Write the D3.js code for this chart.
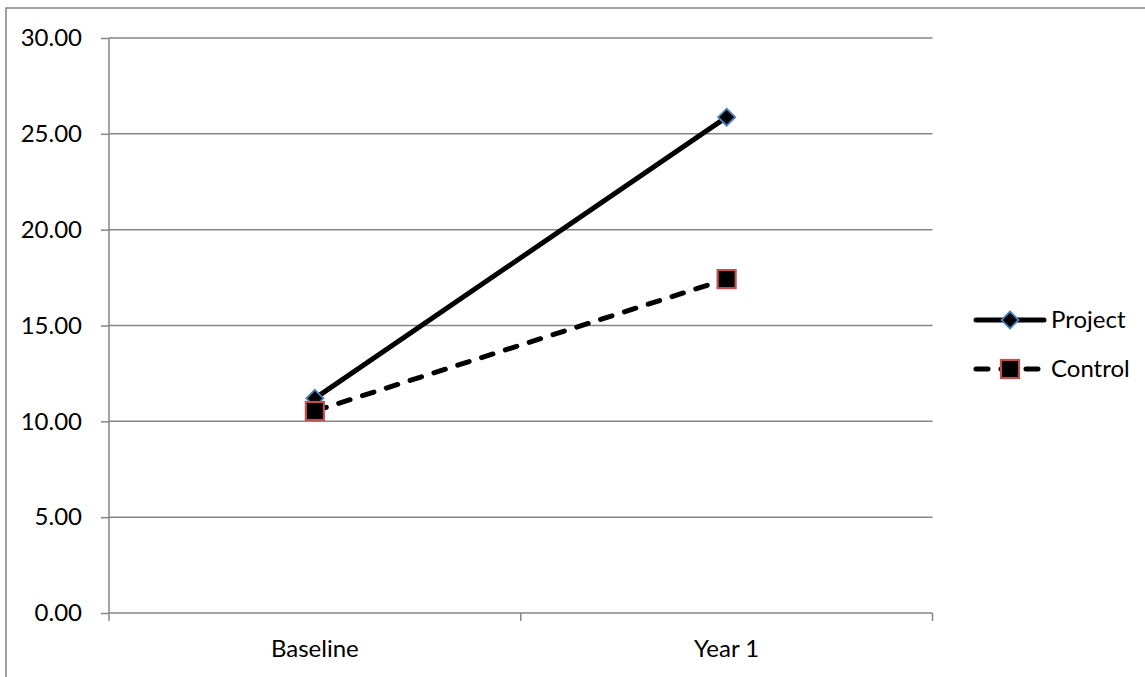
<!DOCTYPE html>
<html>
<head>
<meta charset="utf-8">
<script src="https://cdn.jsdelivr.net/npm/d3@7"></script>
<style>
html,body{margin:0;padding:0;background:#fff;}
svg{display:block;font-family:Lato,"Open Sans",sans-serif;}
</style>
</head>
<body>
<svg id="chart" width="1145" height="677"></svg>
<script>
const categories = ["Baseline", "Year 1"];
const projectValues = [11.2, 25.87];
const controlValues = [10.54, 17.42];
const seriesNames = ["Project", "Control"];
const yTicks = [0, 5, 10, 15, 20, 25, 30];

const svg = d3.select("#chart");
const W = 1145, H = 677;
const plot = {left: 109, right: 932.5, top: 38, bottom: 613};
const fontSize = 24;

// outer border
svg.append("rect").attr("x", 6).attr("y", 8).attr("width", W + 10).attr("height", H + 10)
  .attr("fill", "none").attr("stroke", "#8a8a8a").attr("stroke-width", 1.6);

const y = d3.scaleLinear().domain([0, 30]).range([plot.bottom, plot.top]);
const xBand = d3.scaleBand().domain(categories).range([plot.left, plot.right]);
const x = d => xBand(d) + xBand.bandwidth() / 2;

const gridColor = "#868686";

// gridlines
svg.append("g").selectAll("line").data(yTicks).join("line")
  .attr("x1", plot.left).attr("x2", plot.right)
  .attr("y1", d => y(d)).attr("y2", d => y(d))
  .attr("stroke", gridColor).attr("stroke-width", 1.5);

// y axis
const yAxis = svg.append("g").attr("transform", `translate(${plot.left},0)`)
  .call(d3.axisLeft(y).tickValues(yTicks).tickSize(8).tickPadding(19).tickFormat(d3.format(".2f")));
yAxis.select(".domain").attr("stroke", gridColor).attr("stroke-width", 1.5).attr("d", `M0,${plot.top}V${plot.bottom}`);
yAxis.selectAll(".tick line").attr("stroke", gridColor).attr("stroke-width", 1.5);
yAxis.selectAll(".tick text").attr("font-size", fontSize).attr("font-family", "Lato").attr("fill", "#000");

// x axis: boundary ticks
const bounds = categories.map(c => xBand(c)).concat([plot.right]);
svg.append("g").selectAll("line").data(bounds).join("line")
  .attr("x1", d => d).attr("x2", d => d)
  .attr("y1", plot.bottom).attr("y2", plot.bottom + 8)
  .attr("stroke", gridColor).attr("stroke-width", 1.5);
svg.append("g").selectAll("text").data(categories).join("text")
  .attr("x", d => x(d)).attr("y", 657)
  .attr("text-anchor", "middle").attr("font-size", fontSize).attr("fill", "#000")
  .text(d => d);

// lines
const lineGen = d3.line().x((d, i) => x(categories[i])).y(d => y(d));
svg.append("path").datum(projectValues).attr("d", lineGen)
  .attr("fill", "none").attr("stroke", "#000").attr("stroke-width", 5).attr("stroke-linecap", "round");
svg.append("path").datum(controlValues).attr("d", lineGen)
  .attr("fill", "none").attr("stroke", "#000").attr("stroke-width", 5)
  .attr("stroke-linecap", "round").attr("stroke-dasharray", "12,13");

const diamond = (cx, cy, r) => `M${cx},${cy - r}L${cx + r},${cy}L${cx},${cy + r}L${cx - r},${cy}Z`;

// markers
svg.append("g").selectAll("path").data(projectValues).join("path")
  .attr("d", (d, i) => diamond(x(categories[i]), y(d), 8.5))
  .attr("fill", "#000").attr("stroke", "#4a7ebb").attr("stroke-width", 1.8);
svg.append("g").selectAll("rect").data(controlValues).join("rect")
  .attr("x", (d, i) => x(categories[i]) - 9).attr("y", d => y(d) - 9)
  .attr("width", 18).attr("height", 18)
  .attr("fill", "#000").attr("stroke", "#c0504d").attr("stroke-width", 2.2);

// legend
const leg = svg.append("g");
const legY = [320, 369];
leg.append("line").attr("x1", 976).attr("x2", 1044).attr("y1", legY[0]).attr("y2", legY[0])
  .attr("stroke", "#000").attr("stroke-width", 5).attr("stroke-linecap", "round");
leg.append("path").attr("d", diamond(1010, legY[0], 8.5))
  .attr("fill", "#000").attr("stroke", "#4a7ebb").attr("stroke-width", 1.8);
leg.append("line").attr("x1", 976).attr("x2", 1044).attr("y1", legY[1]).attr("y2", legY[1])
  .attr("stroke", "#000").attr("stroke-width", 5).attr("stroke-linecap", "round")
  .attr("stroke-dasharray", "12,13");
leg.append("rect").attr("x", 1001).attr("y", legY[1] - 9).attr("width", 18).attr("height", 18)
  .attr("fill", "#000").attr("stroke", "#c0504d").attr("stroke-width", 2.2);
leg.selectAll("text").data(seriesNames).join("text")
  .attr("x", 1051).attr("y", (d, i) => legY[i]).attr("dy", "0.35em")
  .attr("font-size", fontSize).attr("fill", "#000").text(d => d);
</script>
</body>
</html>
